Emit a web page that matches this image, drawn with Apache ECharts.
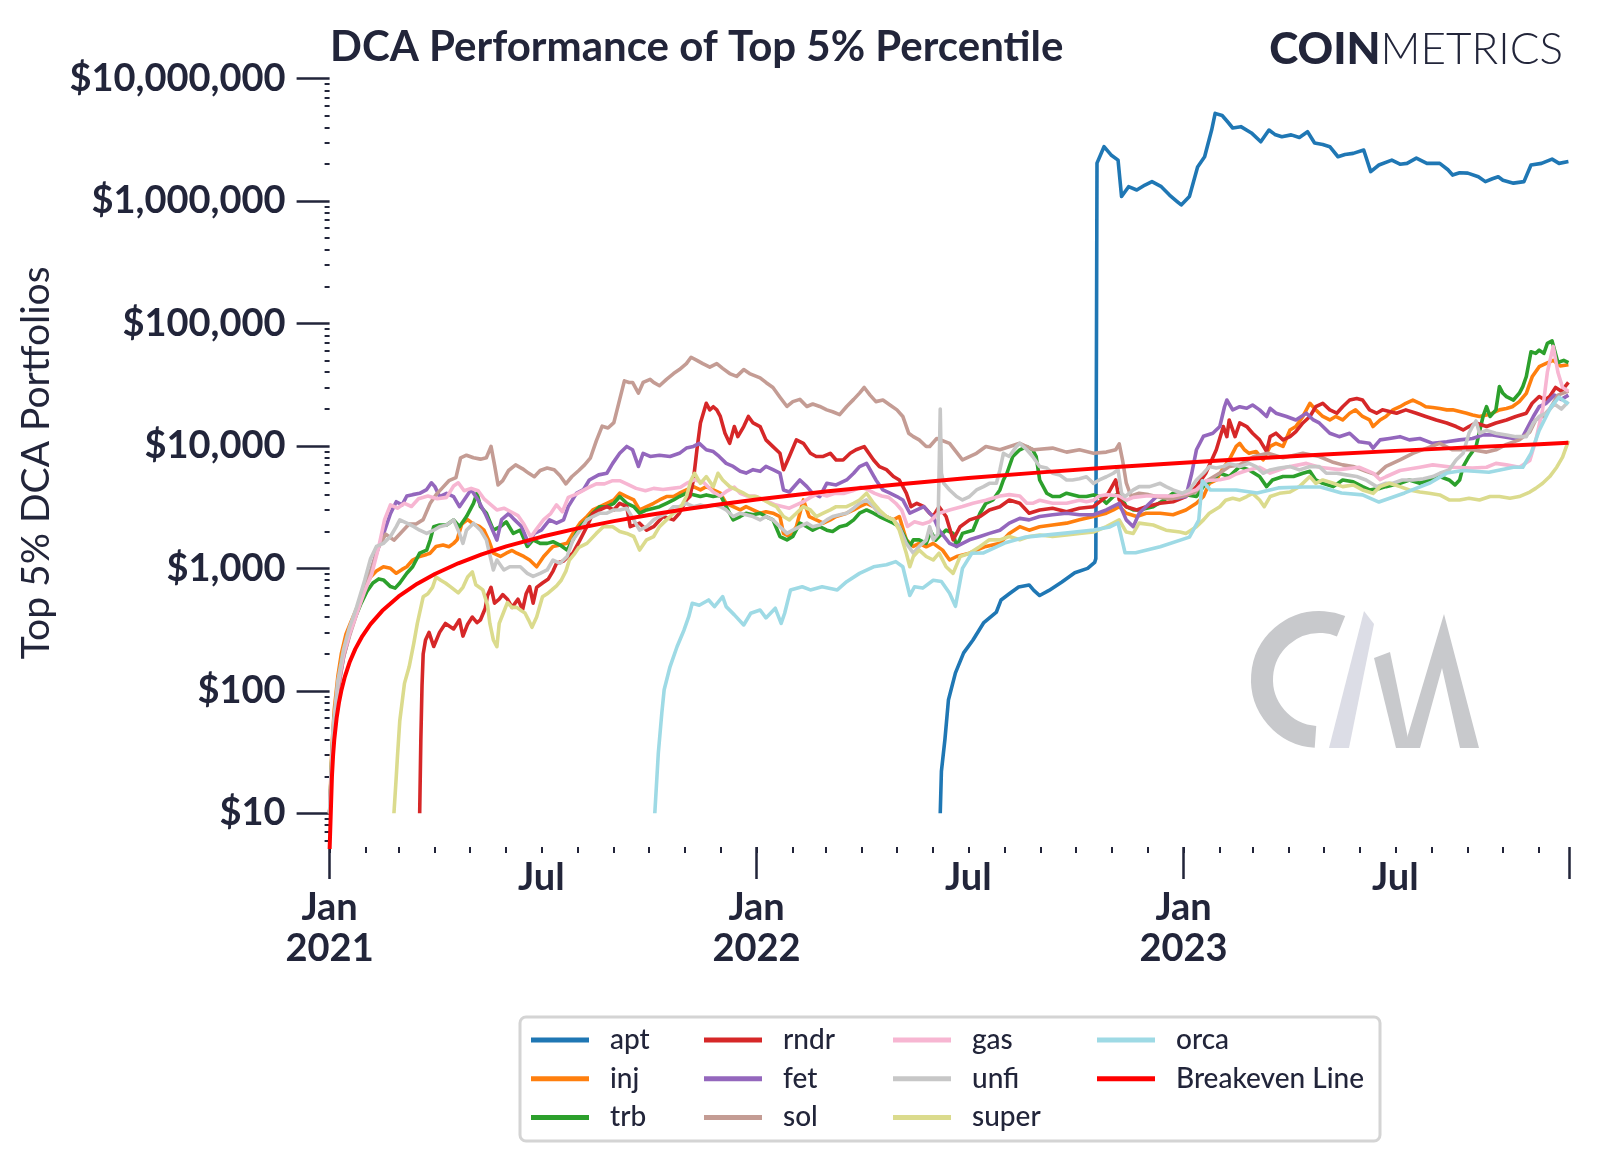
<!DOCTYPE html>
<html><head><meta charset="utf-8">
<script src="https://cdn.jsdelivr.net/npm/echarts@6/dist/echarts.min.js"></script>
<style>html,body{margin:0;padding:0;background:#fff}#chart{width:1600px;height:1162px}</style>
</head><body><div id="chart"></div>
<script>
// Each series: [days since 2021-01-01, portfolio value in USD]
const START = Date.UTC(2021, 0, 1);
const DAY = 86400000;
const END_DAY = 1060;

const seriesNames = ['apt','inj','trb','rndr','fet','sol','gas','unfi','super','orca','Breakeven Line'];
const seriesColors = ['#1f77b4','#ff7f0e','#2ca02c','#d62728','#9467bd','#c49c94','#f7b6d2','#c7c7c7','#dbdb8d','#9edae5','#ff0000'];
const legendColumns = [['apt','inj','trb'],['rndr','fet','sol'],['gas','unfi','super'],['orca','Breakeven Line']];

const apt = [[522,10],[523,22],[526,40],[529,84],[535,140],[542,204],[550,260],[559,358],[570,440],[574,552],[581,620],[589,705],[598,732],[602,660],[607,600],[615,660],[626,775],[637,920],[648,1000],[654,1120],[655,1200],[656,2040000],[662,2780000],[668,2380000],[674,2160000],[677,1090000],[683,1310000],[690,1230000],[697,1350000],[703,1440000],[711,1310000],[718,1120000],[724,1000000],[728,930000],[735,1090000],[742,1900000],[748,2300000],[754,3800000],[757,5200000],[763,5000000],[768,4400000],[772,3950000],[779,4050000],[788,3600000],[796,3050000],[803,3800000],[808,3500000],[814,3350000],[822,3470000],[829,3300000],[836,3680000],[842,2980000],[849,2900000],[855,2780000],[862,2300000],[868,2400000],[875,2450000],[884,2610000],[890,1740000],[897,1970000],[908,2160000],[915,2000000],[921,2030000],[929,2240000],[938,2030000],[949,2030000],[956,1800000],[960,1630000],[966,1700000],[973,1690000],[982,1580000],[988,1440000],[994,1520000],[999,1580000],[1003,1480000],[1012,1400000],[1021,1440000],[1027,1970000],[1036,2030000],[1045,2200000],[1051,2030000],[1059,2100000]];

const inj = [[0,10],[2,35],[4,70],[7,130],[10,200],[14,290],[18,360],[21,420],[25,520],[30,700],[35,850],[40,950],[46,1030],[52,1000],[57,912],[62,980],[66,1030],[71,1170],[77,1250],[83,1300],[86,1330],[91,1510],[97,1550],[102,1500],[106,1600],[109,1710],[113,2300],[118,2500],[123,2300],[128,2200],[132,2050],[136,1700],[140,1330],[146,1250],[151,1330],[156,1400],[160,1330],[166,1250],[171,1170],[177,1030],[183,1250],[188,1410],[191,1510],[197,1550],[203,1600],[208,1930],[214,2340],[220,2650],[225,3000],[231,3190],[237,3400],[243,3620],[248,4110],[254,3860],[260,3620],[265,3000],[271,3190],[277,3400],[282,3620],[288,3860],[294,3860],[299,4110],[305,4370],[311,4650],[317,4370],[322,4650],[328,4370],[334,4110],[339,3400],[345,3190],[351,3000],[356,3190],[362,3000],[368,2820],[373,2900],[379,2820],[385,2650],[388,1930],[393,1820],[399,2190],[405,3620],[410,2650],[416,2490],[422,2340],[428,2490],[433,2650],[442,2820],[448,3000],[453,3190],[459,3400],[465,3190],[470,2820],[476,2650],[482,2490],[487,2650],[493,1710],[499,1510],[504,1600],[510,1500],[516,1600],[524,1410],[530,1170],[536,1250],[547,1330],[553,1410],[561,1510],[573,1600],[581,1930],[590,2190],[598,2050],[607,2190],[618,2260],[630,2340],[641,2490],[653,2650],[664,2820],[670,3000],[675,3190],[681,2820],[690,2650],[698,2820],[710,2820],[721,2740],[732,3000],[741,3400],[747,3860],[752,4950],[758,5270],[763,6370],[769,7700],[775,9900],[778,10500],[782,9300],[786,8700],[792,9000],[798,7700],[804,9900],[809,10500],[815,9900],[821,13500],[826,14400],[832,17400],[838,22300],[843,19700],[849,17400],[855,16300],[860,17400],[866,16300],[872,18500],[877,19700],[883,17400],[889,16300],[892,14400],[898,16300],[903,17400],[909,19700],[915,20900],[920,22300],[926,23700],[932,22300],[937,20900],[943,20600],[949,20200],[955,19700],[960,19700],[966,19100],[972,18500],[977,17900],[983,17400],[989,17900],[994,18500],[1000,19700],[1006,20200],[1011,20900],[1017,23000],[1023,26900],[1028,36700],[1034,44400],[1040,47200],[1046,50000],[1052,45000],[1059,46000]];

const trb = [[0,10],[2,30],[4,60],[7,110],[10,170],[14,250],[18,330],[22,400],[27,520],[32,650],[37,760],[42,820],[46,805],[52,710],[56,690],[60,760],[66,912],[71,1030],[77,1330],[83,1410],[86,1710],[89,2190],[94,2260],[100,2260],[106,2490],[111,2190],[117,2650],[123,3400],[126,4110],[129,3190],[134,2820],[140,2050],[146,2190],[151,2400],[157,1930],[163,2050],[169,1510],[174,1710],[180,1600],[186,1600],[191,1650],[197,1550],[203,1410],[208,1710],[214,2190],[220,2490],[225,2820],[231,3190],[237,3190],[243,3400],[248,3860],[254,3400],[260,3190],[265,2820],[271,3000],[277,3100],[282,3190],[288,3400],[294,3620],[299,3860],[305,4110],[311,4000],[317,3860],[322,3980],[328,3860],[334,3980],[339,3190],[345,2490],[351,2650],[356,2820],[362,2740],[368,2820],[373,2650],[379,2490],[385,1820],[391,1710],[396,1820],[402,2340],[408,2190],[413,2050],[419,2190],[425,2050],[430,2000],[436,2190],[442,2260],[448,2490],[453,2820],[459,3000],[465,2820],[470,2650],[476,2490],[482,2340],[487,2190],[493,1710],[496,1510],[499,1710],[504,1710],[510,1600],[514,2000],[518,1700],[521,1820],[527,2050],[533,1930],[536,1510],[541,1930],[550,2050],[556,2820],[561,3400],[567,3620],[573,4370],[576,5270],[579,5980],[584,8200],[590,9300],[596,9870],[601,9300],[604,8200],[607,5270],[613,4110],[618,3860],[624,3860],[630,4110],[635,4000],[641,3860],[647,3860],[653,3980],[658,3860],[664,3400],[670,3860],[675,4110],[681,3190],[687,3000],[692,3000],[704,3190],[713,3600],[721,4110],[732,4000],[741,3860],[749,4950],[755,5270],[761,5980],[769,5620],[778,6780],[786,6370],[795,5620],[801,4650],[806,5270],[815,5620],[824,5620],[832,5980],[838,6200],[843,5270],[849,4950],[858,4650],[866,5270],[875,5100],[883,4650],[889,4370],[898,4500],[903,4650],[915,4950],[923,5270],[932,4950],[940,5270],[949,5620],[957,5270],[962,4800],[966,5270],[969,6780],[974,8200],[980,9870],[986,17400],[989,20900],[992,17400],[997,19700],[1000,30500],[1003,26900],[1006,25300],[1012,23700],[1017,26900],[1020,30500],[1023,36900],[1027,58800],[1031,57000],[1034,60600],[1038,57000],[1041,68800],[1045,72000],[1050,48000],[1055,50000],[1059,48000]];

const rndr = [[77,10],[78,40],[79,110],[80,200],[82,260],[85,300],[89,230],[94,300],[99,355],[106,320],[111,380],[114,280],[118,350],[122,400],[126,360],[129,380],[133,470],[135,600],[138,700],[141,520],[145,560],[148,610],[152,560],[156,480],[161,560],[165,460],[168,620],[171,710],[174,520],[177,700],[182,760],[187,820],[191,950],[194,1100],[200,1150],[204,1250],[208,1330],[214,1700],[220,2200],[225,2800],[231,3000],[237,3200],[243,3000],[248,3400],[254,3200],[257,2190],[265,2340],[271,2050],[277,2190],[285,2650],[294,2490],[299,2820],[305,3620],[308,3860],[311,5270],[314,9300],[317,15400],[322,22300],[325,19700],[328,20900],[331,19700],[334,17400],[338,12700],[342,10500],[346,14400],[349,11900],[354,14400],[358,17400],[362,15400],[368,14400],[373,11200],[379,9870],[385,8710],[388,6400],[393,8200],[399,11200],[405,10500],[411,8710],[416,8200],[422,8200],[428,8710],[433,7680],[439,7680],[445,8710],[450,9300],[457,9870],[465,7680],[470,6780],[476,6400],[482,5620],[487,5270],[493,4110],[497,3190],[502,3400],[508,3190],[513,2820],[516,2650],[521,3190],[527,2650],[533,1710],[539,2190],[547,2490],[556,2650],[564,3000],[573,3190],[581,3620],[590,3400],[598,2820],[607,3000],[618,3100],[630,2900],[641,3100],[653,3190],[664,3860],[672,5270],[675,3620],[681,3190],[690,3000],[698,3190],[710,3400],[721,3500],[732,3860],[741,4650],[749,5980],[758,9300],[764,14400],[767,11900],[769,16300],[774,11900],[778,15400],[784,14400],[789,12700],[795,11200],[801,9000],[804,11900],[809,12700],[815,11200],[821,11900],[826,13100],[832,15400],[838,17400],[843,20900],[849,22300],[855,19700],[861,18500],[866,20900],[872,23700],[878,24400],[883,23700],[889,19700],[895,18500],[900,19700],[906,19100],[912,18500],[920,19700],[929,18500],[937,17400],[946,16300],[955,15400],[963,14400],[969,13500],[974,14400],[980,15400],[989,14400],[997,15400],[1006,16300],[1014,17400],[1023,18500],[1028,22300],[1034,25300],[1039,23700],[1043,25300],[1048,30000],[1053,28000],[1059,33000]];

const fet = [[0,10],[3,40],[7,100],[12,190],[17,290],[23,440],[30,700],[36,1000],[40,1330],[46,1900],[52,2800],[57,3500],[62,3300],[66,3900],[71,4000],[77,4100],[83,4400],[87,5000],[90,4650],[94,3860],[100,4100],[106,3860],[111,3190],[117,3860],[121,4400],[127,3600],[133,2800],[138,2200],[143,1700],[147,2500],[153,2800],[158,2500],[164,2200],[170,1600],[175,1930],[181,2050],[188,2490],[194,2340],[200,2490],[204,3190],[211,4100],[217,4400],[222,5270],[230,5800],[237,5980],[242,7200],[248,8700],[254,9900],[259,9300],[264,6800],[268,8700],[274,8200],[282,8400],[291,8200],[299,8700],[305,9600],[311,9900],[316,10500],[322,9300],[328,9000],[333,8200],[339,7200],[345,6800],[351,6200],[356,6000],[362,6400],[368,6200],[373,6800],[379,6400],[385,6000],[388,4370],[393,4200],[402,5270],[408,4650],[413,4100],[419,3860],[425,4950],[433,4800],[442,5270],[448,5980],[453,6780],[459,7200],[462,6400],[467,5270],[473,4370],[479,4110],[485,3860],[490,3620],[496,2820],[502,3000],[508,3190],[513,2820],[516,2650],[521,2050],[530,1600],[536,1510],[547,1710],[556,1820],[564,1930],[573,2050],[581,2340],[590,2560],[598,2490],[607,2650],[618,2740],[630,2820],[641,2740],[653,2740],[664,3000],[675,3400],[681,2490],[687,2190],[692,2820],[701,3400],[707,3860],[715,3860],[724,3740],[732,3860],[737,5980],[741,9300],[747,12000],[755,12700],[761,14400],[765,20900],[767,23700],[772,19700],[778,20900],[784,20300],[789,21600],[795,19700],[801,17400],[804,20300],[809,18500],[818,17400],[826,16300],[835,18500],[841,16300],[846,15400],[855,12700],[863,11900],[872,12700],[880,10800],[889,10500],[892,9600],[898,11200],[906,11500],[915,11900],[923,11200],[932,11500],[943,10500],[955,10800],[966,11200],[977,11500],[986,12300],[994,12300],[1003,11900],[1012,11500],[1020,11900],[1029,17400],[1034,20900],[1040,22300],[1047,26000],[1053,24000],[1059,26000]];

const sol = [[0,10],[3,40],[7,100],[12,190],[17,280],[23,420],[30,700],[36,1000],[42,1500],[48,1900],[55,1700],[62,2000],[68,2300],[74,2300],[80,2500],[86,3400],[91,4000],[96,4500],[102,5200],[108,5500],[112,8000],[117,8400],[123,8000],[129,7800],[134,8000],[138,9900],[141,7000],[144,4800],[148,5200],[153,6300],[159,7000],[165,6500],[170,6000],[175,5600],[180,6300],[186,6600],[192,6400],[197,5700],[202,4900],[207,5600],[213,6300],[218,7000],[223,8000],[228,11000],[233,14500],[238,14000],[243,15500],[248,24000],[252,34000],[256,33000],[259,33000],[264,27000],[268,33000],[274,35000],[277,33000],[282,31000],[288,35000],[294,39000],[299,42000],[305,47000],[309,53000],[314,50000],[319,47000],[325,44000],[331,47000],[336,43000],[342,39000],[348,37000],[354,42000],[359,39000],[368,36000],[373,33000],[379,30000],[385,25000],[391,21000],[396,23000],[402,24000],[408,21000],[413,22000],[419,21000],[425,19700],[430,19000],[436,18000],[442,21000],[448,24000],[453,27000],[457,30000],[462,26000],[467,23000],[473,23700],[479,21600],[485,19700],[490,17400],[495,12700],[499,11900],[504,11200],[510,9900],[513,9900],[519,11500],[530,10500],[541,7700],[553,8700],[561,9900],[573,9300],[590,10500],[602,9300],[618,9600],[630,8900],[641,9300],[653,8700],[664,8900],[672,9300],[675,10400],[678,7500],[681,5000],[685,3900],[692,4100],[700,4000],[710,3800],[720,3700],[730,3900],[740,4200],[750,5200],[761,6000],[769,6800],[778,7000],[790,8200],[802,8700],[815,8000],[832,8700],[846,8200],[857,7400],[866,7000],[875,6800],[886,6200],[895,5800],[903,6800],[915,7700],[926,8700],[938,9600],[949,10500],[960,9300],[977,9300],[989,8900],[997,9300],[1006,10300],[1017,11200],[1026,13000],[1031,16300],[1037,17400],[1043,20000],[1050,26000],[1059,28000]];

const gas = [[0,10],[3,45],[7,110],[12,200],[17,290],[23,420],[30,650],[36,900],[42,1500],[47,2500],[52,3300],[58,3100],[64,3400],[70,3200],[76,3700],[84,3900],[92,3700],[100,3800],[106,4700],[110,5000],[115,4300],[121,4500],[127,4300],[132,3700],[138,3300],[143,3000],[149,3100],[155,2900],[161,2700],[166,2300],[172,1800],[177,2100],[183,2500],[189,2800],[194,3300],[199,2900],[204,3800],[210,4000],[216,4300],[222,4600],[228,4900],[235,4900],[242,5200],[248,5200],[254,4900],[262,4500],[270,4300],[277,4500],[285,4400],[293,4500],[300,4600],[306,5000],[312,5300],[320,5000],[328,4200],[334,3900],[340,4300],[346,4600],[351,4100],[357,3900],[363,3900],[369,3700],[375,3500],[381,3300],[387,3200],[393,3100],[399,3300],[405,3500],[411,3800],[418,4100],[425,3900],[432,4100],[440,4100],[447,4300],[454,4600],[460,4400],[466,4100],[472,3900],[478,3800],[484,3400],[489,3000],[494,2200],[500,2400],[507,2300],[513,2400],[520,2800],[530,3000],[541,3200],[550,3400],[561,3600],[573,3900],[581,4000],[590,3900],[596,3400],[601,3400],[607,3600],[618,3400],[630,3400],[641,3600],[647,3500],[653,3600],[658,3900],[664,4000],[675,3900],[681,3600],[687,3800],[698,3900],[710,3900],[721,3900],[732,4100],[741,4400],[749,5200],[761,5300],[769,5500],[775,5900],[784,6300],[795,6700],[804,6000],[818,6700],[835,7200],[846,6700],[863,6400],[880,6700],[892,6000],[898,5300],[903,5600],[915,6300],[932,6700],[943,7000],[960,6700],[977,6600],[989,6700],[997,7200],[1006,7000],[1017,6700],[1026,7600],[1031,11000],[1037,20000],[1041,40000],[1046,65000],[1050,40000],[1054,30000],[1059,28000]];

const unfi = [[0,10],[3,50],[7,120],[12,220],[17,330],[23,480],[30,800],[35,1200],[40,1510],[46,1600],[52,1820],[57,2190],[60,2490],[66,2340],[72,2190],[77,2050],[83,1930],[89,2050],[94,2190],[100,2260],[106,2490],[111,1930],[114,1600],[117,2050],[123,2340],[129,2050],[134,1710],[140,970],[143,1170],[149,970],[154,1030],[163,1030],[169,910],[174,860],[180,910],[186,970],[191,1170],[197,1100],[203,1250],[208,1710],[214,2050],[220,2490],[225,2650],[231,2820],[237,2820],[243,3000],[248,3000],[254,3100],[260,2490],[265,2050],[271,2190],[277,2490],[282,2650],[288,2820],[294,3190],[299,3190],[305,3400],[311,3190],[317,3300],[322,3190],[328,3300],[334,3190],[339,3000],[345,2650],[351,2820],[356,2740],[362,2650],[368,2490],[373,2650],[379,2490],[385,2190],[391,1930],[396,2050],[402,2190],[408,2340],[413,2190],[419,2260],[425,2490],[430,2650],[436,2740],[442,2820],[448,3100],[453,3400],[459,3620],[465,3190],[470,2820],[476,2650],[482,2490],[487,2190],[493,1600],[499,1330],[504,1510],[510,1700],[513,2190],[516,1710],[520,1900],[522,20000],[523,6000],[525,4950],[530,4370],[536,3860],[541,3620],[547,3860],[553,4370],[559,4650],[564,4950],[570,4950],[573,6370],[576,8700],[581,8200],[587,9870],[590,10500],[596,9300],[601,8200],[607,6780],[613,6600],[618,5980],[624,5800],[630,5270],[635,5270],[641,5400],[647,5600],[653,4950],[658,5270],[664,5600],[670,5980],[674,6400],[677,4110],[680,3860],[687,4370],[692,4650],[701,4650],[710,4950],[715,4650],[721,4370],[729,4110],[735,4370],[741,5270],[747,5980],[752,6780],[758,6600],[764,6780],[769,7200],[778,6780],[786,7200],[792,6780],[798,5980],[804,6370],[812,6600],[821,6780],[829,6370],[838,6780],[846,6780],[852,5980],[861,5980],[869,5800],[878,5620],[886,5270],[895,4650],[903,4950],[909,4950],[917,5270],[926,5270],[935,5400],[943,5620],[949,5980],[957,6370],[963,7680],[969,8710],[974,12700],[977,14400],[980,16000],[983,12700],[989,13400],[997,12700],[1006,12300],[1014,11900],[1023,11900],[1029,15400],[1034,17400],[1040,18500],[1047,22000],[1053,20000],[1059,23000]];

const superToken = [[55,10],[57,20],[58,29],[60,57],[64,115],[68,157],[72,245],[75,355],[80,585],[84,620],[88,700],[91,850],[95,800],[99,760],[104,700],[110,630],[114,700],[118,850],[122,935],[125,735],[131,667],[135,500],[137,355],[140,260],[143,229],[145,355],[148,420],[152,525],[156,480],[160,480],[164,450],[167,432],[170,380],[173,330],[177,400],[182,585],[186,620],[190,667],[194,720],[198,800],[202,950],[205,1170],[209,1300],[213,1480],[217,1550],[220,1600],[228,1930],[234,2190],[242,2190],[248,2000],[254,1930],[260,1820],[265,1410],[271,1710],[277,1820],[282,2190],[288,2490],[294,2820],[299,3000],[305,3860],[309,5270],[312,5980],[317,4950],[322,5620],[328,4650],[332,5980],[336,5270],[342,4650],[348,4370],[354,4110],[359,3860],[365,3860],[371,3620],[376,3400],[382,3190],[388,2650],[393,2490],[399,2820],[405,3190],[411,3000],[416,2650],[422,2820],[428,3000],[433,3190],[442,3190],[448,3400],[453,3620],[459,4110],[465,3400],[470,3000],[476,2650],[482,2490],[487,2050],[493,1330],[496,1030],[499,1250],[504,1410],[510,1250],[516,1170],[521,1330],[527,1030],[533,910],[539,1250],[547,1330],[556,1510],[564,1710],[573,1710],[581,1820],[590,1710],[598,1820],[607,1870],[618,1820],[630,1870],[641,1930],[653,1980],[664,2190],[675,2490],[681,1980],[687,1930],[692,2340],[704,2260],[715,2050],[727,1980],[732,1930],[741,2190],[747,2490],[752,2820],[761,3190],[766,3600],[772,3740],[778,3620],[784,3860],[789,4100],[795,3620],[799,3190],[804,3860],[812,4100],[821,4200],[829,4650],[838,5620],[843,4950],[849,5270],[858,4950],[866,4650],[875,4800],[883,4370],[892,4100],[898,4650],[906,4950],[915,4650],[923,4370],[932,4200],[940,4100],[949,3980],[957,3620],[966,3620],[974,3740],[983,3620],[992,3860],[1000,3860],[1009,3740],[1017,3860],[1026,4200],[1031,4500],[1037,4950],[1043,5620],[1049,6700],[1054,8100],[1059,11000]];

const orca = [[278,10],[281,31],[284,66],[286,102],[291,157],[297,229],[303,314],[307,403],[310,519],[316,500],[324,552],[329,487],[336,588],[339,487],[346,417],[354,345],[360,430],[368,457],[373,394],[381,472],[386,355],[389,430],[394,667],[404,708],[411,667],[421,708],[434,667],[442,778],[453,910],[465,1030],[476,1070],[484,1135],[490,1030],[496,600],[500,708],[507,690],[516,800],[523,780],[530,627],[535,490],[541,1000],[549,1330],[559,1337],[577,1610],[595,1800],[631,1950],[653,2060],[667,2180],[674,2350],[680,1340],[689,1340],[710,1500],[735,1800],[743,2480],[746,5200],[753,4370],[775,4370],[793,4130],[811,4540],[832,4620],[847,4620],[865,4130],[883,3980],[897,3480],[919,4130],[941,5000],[955,6000],[969,6300],[991,6100],[1012,6700],[1020,6700],[1027,8700],[1034,13400],[1044,20800],[1051,25000],[1059,22000]];

const breakeven = [[0,5],[1,10],[2,20],[3,30],[4,40],[6,60],[8,80],[10,100],[13,130],[17,170],[22,220],[28,280],[35,350],[45,450],[59,590],[75,750],[90,900],[110,1100],[130,1300],[151,1510],[181,1810],[212,2120],[243,2430],[273,2730],[304,3040],[334,3340],[365,3650],[424,4240],[485,4850],[546,5460],[608,6080],[669,6690],[730,7300],[789,7890],[850,8500],[911,9110],[973,9730],[1034,10340],[1059,10590]];

const seriesValues = [apt, inj, trb, rndr, fet, sol, gas, unfi, superToken, orca, breakeven];

// Axis tick positions (dates / values)
const yMin = 5.3, yMax = 1e7;
const yMinorTicks = [];
for (let e = 0; e <= 6; e++) for (let k = 2; k <= 9; k++) { const v = k * Math.pow(10, e); if (v >= yMin && v <= yMax) yMinorTicks.push(v); }
const xMax = START + END_DAY * DAY;
const xMajorTicks = [Date.UTC(2021,0,1), Date.UTC(2022,0,1), Date.UTC(2023,0,1)];
const xMinorLabelTicks = [Date.UTC(2021,6,1), Date.UTC(2022,6,1), Date.UTC(2023,6,1)];
const xMonthTicks = [];
for (let y = 2021; y <= 2023; y++) for (let m = 0; m < 12; m++) { const t = Date.UTC(y, m, 1); if (t <= xMax) xMonthTicks.push(t); }

const TXT = '#22253a';
const FONT = 'Lato';
const toPoints = arr => arr.map(p => [START + p[0] * DAY, p[1]]);

const chart = echarts.init(document.getElementById('chart'), null, {renderer: 'canvas'});
const legendLeft = [531, 704, 893, 1097];

const option = {
  animation: false,
  backgroundColor: '#ffffff',
  textStyle: {fontFamily: FONT},
  title: {
    text: 'DCA Performance of Top 5% Percentile',
    left: 330, top: 26, padding: 0,
    textStyle: {fontFamily: FONT, fontSize: 42, fontWeight: 'bold', color: TXT}
  },
  grid: {left: 329.6, right: 30.4, top: 78.6, bottom: 315, containLabel: false, outerBoundsMode: 'none'},
  legend: legendColumns.map((names, i) => ({
    data: names, orient: 'vertical', left: legendLeft[i], top: 1025, padding: 0,
    itemGap: 8.7, itemWidth: 58, itemHeight: 5, icon: 'rect', selectedMode: false,
    textStyle: {fontFamily: FONT, fontSize: 28, fontWeight: 500, color: TXT, lineHeight: 30, padding: [0, 0, 0, 16]}
  })),
  xAxis: [
    {
      type: 'value', min: START, max: xMax, position: 'bottom',
      axisLine: {show: false}, splitLine: {show: false},
      axisTick: {show: true, customValues: xMajorTicks.concat([xMax]), length: 32, lineStyle: {color: TXT, width: 2.5}},
      axisLabel: {customValues: xMajorTicks, formatter: v => 'Jan\n' + new Date(v).getUTCFullYear(),
        fontFamily: FONT, fontSize: 38, fontWeight: 'bold', color: TXT, lineHeight: 41, margin: 40}
    },
    {
      type: 'value', min: START, max: xMax, position: 'bottom',
      axisLine: {show: false}, splitLine: {show: false},
      axisTick: {show: true, customValues: xMonthTicks, length: 6, lineStyle: {color: TXT, width: 2}},
      axisLabel: {customValues: xMinorLabelTicks, formatter: () => 'Jul',
        fontFamily: FONT, fontSize: 38, fontWeight: 'bold', color: TXT, margin: 12}
    }
  ],
  yAxis: [
    {
      type: 'log', logBase: 10, min: yMin, max: yMax, position: 'left',
      name: 'Top 5% DCA Portfolios', nameLocation: 'middle', nameGap: 274,
      nameTextStyle: {fontFamily: FONT, fontSize: 39, color: TXT},
      axisLine: {show: false}, splitLine: {show: false},
      axisTick: {show: true, length: 33, lineStyle: {color: TXT, width: 2.5}},
      axisLabel: {showMinLabel: false, formatter: v => '$' + Math.round(v).toLocaleString('en-US'),
        fontFamily: FONT, fontSize: 38, fontWeight: 'bold', color: TXT, margin: 44}
    },
    {
      type: 'log', logBase: 10, min: yMin, max: yMax, position: 'left',
      axisLine: {show: false}, splitLine: {show: false}, axisLabel: {show: false},
      axisTick: {show: true, customValues: yMinorTicks, length: 5, lineStyle: {color: TXT, width: 2}}
    }
  ],
  series: seriesNames.map((n, i) => ({
    name: n, type: 'line', xAxisIndex: 0, yAxisIndex: 0,
    data: toPoints(seriesValues[i]),
    showSymbol: false, symbol: 'none', smooth: false,
    lineStyle: {width: i === 10 ? 4 : 3.6, color: seriesColors[i], join: 'round'},
    itemStyle: {color: seriesColors[i]},
    emphasis: {disabled: true}, z: 2 + i
  })),
  graphic: [
    {type: 'text', right: 37, top: 28, style: {text: '{b|COIN}{l|METRICS}',
      rich: {b: {fontFamily: FONT, fontWeight: 900, fontSize: 44, fill: TXT}, l: {fontFamily: FONT, fontWeight: 300, fontSize: 44, fill: TXT}}}},
    {type: 'rect', shape: {x: 520, y: 1017, width: 860, height: 124, r: 6}, style: {fill: 'none', stroke: '#d4d4d4', lineWidth: 3}},
    {type: 'arc', shape: {cx: 1319.5, cy: 679.5, r: 57.5, startAngle: 94 * Math.PI / 180, endAngle: 292 * Math.PI / 180, clockwise: true},
      style: {stroke: '#c8c9cc', lineWidth: 22, fill: 'none'}},
    {type: 'polygon', shape: {points: [[1329,748],[1349,748],[1374,624],[1364,611]]}, style: {fill: '#dcdde6'}},
    {type: 'polygon', shape: {points: [[1374,658],[1390,652],[1410,748],[1396,748]]}, style: {fill: '#c8c9cc'}},
    {type: 'polygon', shape: {points: [[1404,748],[1444,614],[1479,748],[1460,748],[1442,668],[1420,748]]}, style: {fill: '#c8c9cc'}}
  ]
};
chart.setOption(option);
</script></body></html>
